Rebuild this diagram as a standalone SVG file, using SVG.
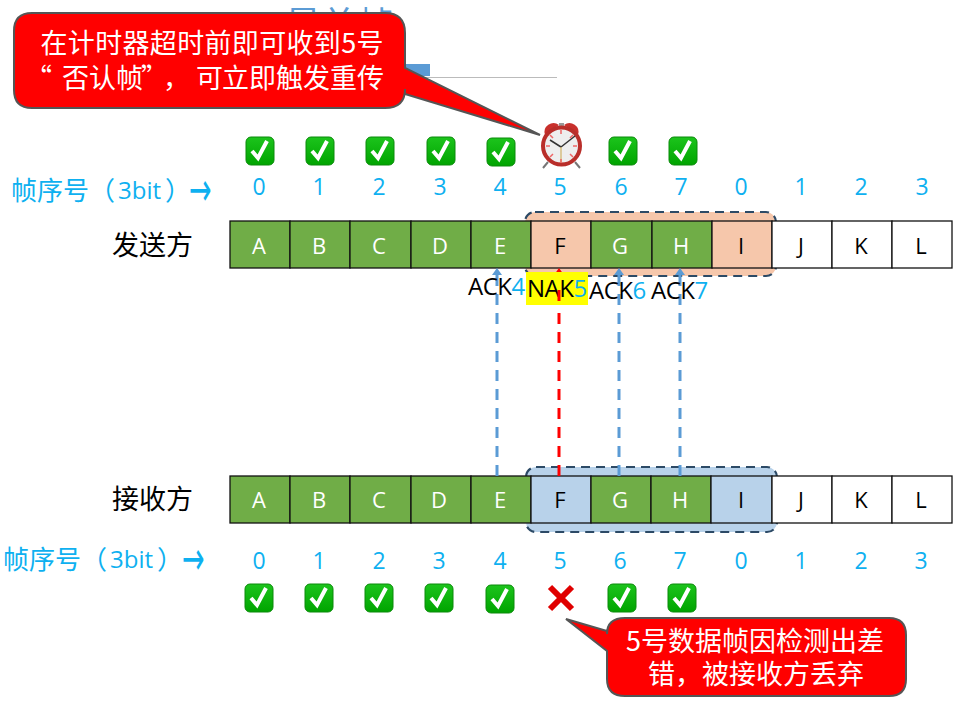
<svg xmlns="http://www.w3.org/2000/svg" width="964" height="704" viewBox="0 0 964 704">
<style>
text{font-family:"Liberation Sans","Noto Sans CJK SC",sans-serif}
.cell{stroke:#111;stroke-width:1.3}
.g{fill:#70ad47}.w{fill:#fff}.o{fill:#f6c7ab}.b{fill:#b8d2ea}
.cl{font-family:"Open Sans","Noto Sans CJK SC",sans-serif;font-size:22px;text-anchor:middle}
.lw{fill:#fff}.lk{fill:#000}
.num{font-family:"Open Sans",sans-serif;font-size:23px;fill:#0eb0f0;text-anchor:middle}
.seq{font-family:"Noto Sans CJK SC",sans-serif;font-size:26px;fill:#0eb0f0}
.bit{font-family:"Open Sans",sans-serif;font-size:24px;fill:#0eb0f0}
.arr{font-family:"DejaVu Sans",sans-serif;font-size:27px;fill:#0eb0f0}
.who{font-family:"Noto Sans CJK SC",sans-serif;font-size:27px;fill:#000}
.ack{font-family:"Open Sans",sans-serif;font-size:24px;fill:#000;letter-spacing:-.5px}
.ack tspan{fill:#0eb0f0}
.win{stroke:#2c4a66;stroke-width:2.2;stroke-dasharray:9 6}
.conn{fill:none;stroke-width:3;stroke-dasharray:11 8}
.call{fill:#f00;stroke:#555;stroke-width:2}
.ct{font-family:"Noto Sans CJK SC",sans-serif;font-size:27px;fill:#fff;text-anchor:middle}
.ctl{font-family:"Noto Sans CJK SC",sans-serif;font-size:27px;fill:#fff}
.box{fill:url(#gb);stroke:#0a8a0a;stroke-width:1}
.tick{fill:none;stroke:#fff;stroke-width:4;stroke-linecap:butt;stroke-linejoin:miter}
</style>
<defs>
<linearGradient id="gb" x1="0" y1="0" x2="0" y2="1"><stop offset="0" stop-color="#1cc41c"/><stop offset="1" stop-color="#00a400"/></linearGradient>
<g id="chk"><rect class="box" x="-14" y="-14" width="28" height="28" rx="5"/><path class="tick" d="M-8,0L-2,7L7,-10"/></g>
<marker id="ab" markerWidth="8" markerHeight="10" refX="7" refY="5" orient="auto" markerUnits="userSpaceOnUse"><path d="M0,0L7,5L0,10Z" fill="#5b9bd5"/></marker>
<marker id="ar" markerWidth="8" markerHeight="10" refX="7" refY="5" orient="auto" markerUnits="userSpaceOnUse"><path d="M0,0L7,5L0,10Z" fill="#f00"/></marker>
</defs>
<g id="title">
<text x="285" y="38" font-size="36" fill="#5b9bd5" style="font-family:'Noto Sans CJK SC',sans-serif">最差帧</text>
<rect x="400" y="64" width="30" height="12" fill="#5b9bd5"/>
<line x1="375" y1="77.500" x2="557" y2="77.500" stroke="#bbb"/>
</g>
<g id="sender-window"><rect class="o win" x="525" y="212" width="251" height="64" rx="10"/></g>
<g id="receiver-window"><rect class="b win" x="526" y="467" width="251" height="65" rx="10"/></g>
<g id="sender">
<text class="who" x="112" y="255">发送方</text>
<g id="s-A"><rect class="cell g" x="230" y="221" width="60" height="47"/><text class="cl lw" x="259" y="254">A</text></g>
<g id="s-B"><rect class="cell g" x="290" y="221" width="60" height="47"/><text class="cl lw" x="319" y="254">B</text></g>
<g id="s-C"><rect class="cell g" x="350" y="221" width="61" height="47"/><text class="cl lw" x="379" y="254">C</text></g>
<g id="s-D"><rect class="cell g" x="411" y="221" width="60" height="47"/><text class="cl lw" x="440" y="254">D</text></g>
<g id="s-E"><rect class="cell g" x="471" y="221" width="60" height="47"/><text class="cl lw" x="500" y="254">E</text></g>
<g id="s-F"><rect class="cell o" x="531" y="221" width="60" height="47"/><text class="cl lk" x="560" y="254">F</text></g>
<g id="s-G"><rect class="cell g" x="591" y="221" width="61" height="47"/><text class="cl lw" x="620" y="254">G</text></g>
<g id="s-H"><rect class="cell g" x="652" y="221" width="60" height="47"/><text class="cl lw" x="681" y="254">H</text></g>
<g id="s-I"><rect class="cell o" x="712" y="221" width="60" height="47"/><text class="cl lk" x="741" y="254">I</text></g>
<g id="s-J"><rect class="cell w" x="772" y="221" width="60" height="47"/><text class="cl lk" x="801" y="254">J</text></g>
<g id="s-K"><rect class="cell w" x="832" y="221" width="60" height="47"/><text class="cl lk" x="861" y="254">K</text></g>
<g id="s-L"><rect class="cell w" x="892" y="221" width="60" height="47"/><text class="cl lk" x="921" y="254">L</text></g>
</g>
<g id="receiver">
<text class="who" x="112" y="509">接收方</text>
<g id="r-A"><rect class="cell g" x="230" y="476" width="60" height="47"/><text class="cl lw" x="259" y="508">A</text></g>
<g id="r-B"><rect class="cell g" x="290" y="476" width="60" height="47"/><text class="cl lw" x="319" y="508">B</text></g>
<g id="r-C"><rect class="cell g" x="350" y="476" width="61" height="47"/><text class="cl lw" x="379" y="508">C</text></g>
<g id="r-D"><rect class="cell g" x="411" y="476" width="60" height="47"/><text class="cl lw" x="439" y="508">D</text></g>
<g id="r-E"><rect class="cell g" x="471" y="476" width="60" height="47"/><text class="cl lw" x="500" y="508">E</text></g>
<g id="r-F"><rect class="cell b" x="531" y="476" width="60" height="47"/><text class="cl lk" x="560" y="508">F</text></g>
<g id="r-G"><rect class="cell g" x="591" y="476" width="60" height="47"/><text class="cl lw" x="620" y="508">G</text></g>
<g id="r-H"><rect class="cell g" x="651" y="476" width="60" height="47"/><text class="cl lw" x="680" y="508">H</text></g>
<g id="r-I"><rect class="cell b" x="711" y="476" width="61" height="47"/><text class="cl lk" x="741" y="508">I</text></g>
<g id="r-J"><rect class="cell w" x="772" y="476" width="60" height="47"/><text class="cl lk" x="801" y="508">J</text></g>
<g id="r-K"><rect class="cell w" x="832" y="476" width="60" height="47"/><text class="cl lk" x="861" y="508">K</text></g>
<g id="r-L"><rect class="cell w" x="892" y="476" width="60" height="47"/><text class="cl lk" x="921" y="508">L</text></g>
</g>
<g id="seq-top">
<text class="seq" x="11" y="200">帧序号（</text><text class="bit" x="118" y="199">3bit</text><text class="seq" x="165" y="200">）</text><text class="arr" transform="translate(189,205) scale(1,1.7)">→</text>
<text class="num" x="259" y="195">0</text><text class="num" x="319" y="195">1</text><text class="num" x="379" y="195">2</text><text class="num" x="440" y="195">3</text><text class="num" x="500" y="195">4</text><text class="num" x="560" y="195">5</text><text class="num" x="621" y="195">6</text><text class="num" x="681" y="195">7</text><text class="num" x="741" y="195">0</text><text class="num" x="801" y="195">1</text><text class="num" x="861" y="195">2</text><text class="num" x="922" y="195">3</text>
</g>
<g id="seq-bottom">
<text class="seq" x="3" y="569">帧序号（</text><text class="bit" x="110" y="568">3bit</text><text class="seq" x="157" y="569">）</text><text class="arr" transform="translate(182,574) scale(1,1.7)">→</text>
<text class="num" x="259" y="569">0</text><text class="num" x="319" y="569">1</text><text class="num" x="379" y="569">2</text><text class="num" x="439" y="569">3</text><text class="num" x="500" y="569">4</text><text class="num" x="560" y="569">5</text><text class="num" x="620" y="569">6</text><text class="num" x="680" y="569">7</text><text class="num" x="741" y="569">0</text><text class="num" x="801" y="569">1</text><text class="num" x="861" y="569">2</text><text class="num" x="921" y="569">3</text>
</g>
<g id="checks-top">
<use href="#chk" x="260" y="151"/><use href="#chk" x="320" y="151"/><use href="#chk" x="380" y="151"/><use href="#chk" x="441" y="151"/><use href="#chk" x="501" y="152"/><use href="#chk" x="623" y="151"/><use href="#chk" x="683" y="151"/>
</g>
<g id="checks-bottom">
<use href="#chk" x="259" y="598"/><use href="#chk" x="319" y="598"/><use href="#chk" x="379" y="598"/><use href="#chk" x="439" y="598"/><use href="#chk" x="500" y="599"/><use href="#chk" x="622" y="598"/><use href="#chk" x="682" y="598"/>
</g>
<g id="clock">
<path d="M545,135a9,9 0 0 1 14,-10z M564,125a9,9 0 0 1 14,10z" fill="#c8302c"/>
<path d="M548,162l-5,6M575,162l5,6" stroke="#777" stroke-width="2"/>
<rect x="559" y="123" width="5" height="4" fill="#999"/>
<circle cx="561.500" cy="146" r="18.500" fill="#eee" stroke="#b92e2a" stroke-width="4"/>
<path d="M561,147L550,140M561,147L575,136" stroke="#333" stroke-width="1.500" fill="none"/>
<path d="M561,147V163" stroke="#c9a64a"/>
<path d="M561,130v4M561,159v4M546,146h4M573,146h4M550,135l3,3M573,135l-3,3M550,157l3,-3M573,157l-3,-3" stroke="#e66" stroke-width="1.500"/>
</g>
<g id="cross"><path d="M550,587L572,609M572,587L550,609" stroke="#e00000" stroke-width="6"/></g>
<g id="connectors">
<path class="conn" stroke="#5b9bd5" marker-end="url(#ab)" d="M497,476V268"/>
<path class="conn" stroke="#f00" marker-end="url(#ar)" d="M559,476V268"/>
<path class="conn" stroke="#5b9bd5" marker-end="url(#ab)" d="M619,476V268"/>
<path class="conn" stroke="#5b9bd5" marker-end="url(#ab)" d="M680,476V268"/>
</g>
<g id="ack-labels">
<rect x="526" y="272" width="62" height="33" fill="#ff0"/>
<text class="ack" x="468" y="295">ACK<tspan>4</tspan></text>
<text class="ack" x="527" y="297">NAK<tspan>5</tspan></text>
<text class="ack" x="589" y="299">ACK<tspan>6</tspan></text>
<text class="ack" x="651" y="299">ACK<tspan>7</tspan></text>
<path class="conn" stroke="#f00" d="M559,290V304"/>
</g>
<g id="callout-top">
<path class="call" d="M32,13H385Q405,13 405,33V68L540,135L405,94V89Q405,108 385,108H32Q14,108 14,90V31Q14,13 32,13Z"/>
<text class="ct" x="212" y="53" textLength="343">在计时器超时前即可收到5号</text>
<text class="ctl" x="25 62 89 116 141 163 196 222 249 276 303 330 357" y="88">“否认帧”，可立即触发重传</text>
</g>
<g id="callout-bottom">
<path class="call" d="M566,619L607,631V634Q607,618 625,618H889Q906,618 906,635V679Q906,696 889,696H625Q607,696 607,679V651Z"/>
<text class="ct" x="755" y="651">5号数据帧因检测出差</text>
<text class="ct" x="756" y="684">错，被接收方丢弃</text>
</g>
</svg>
